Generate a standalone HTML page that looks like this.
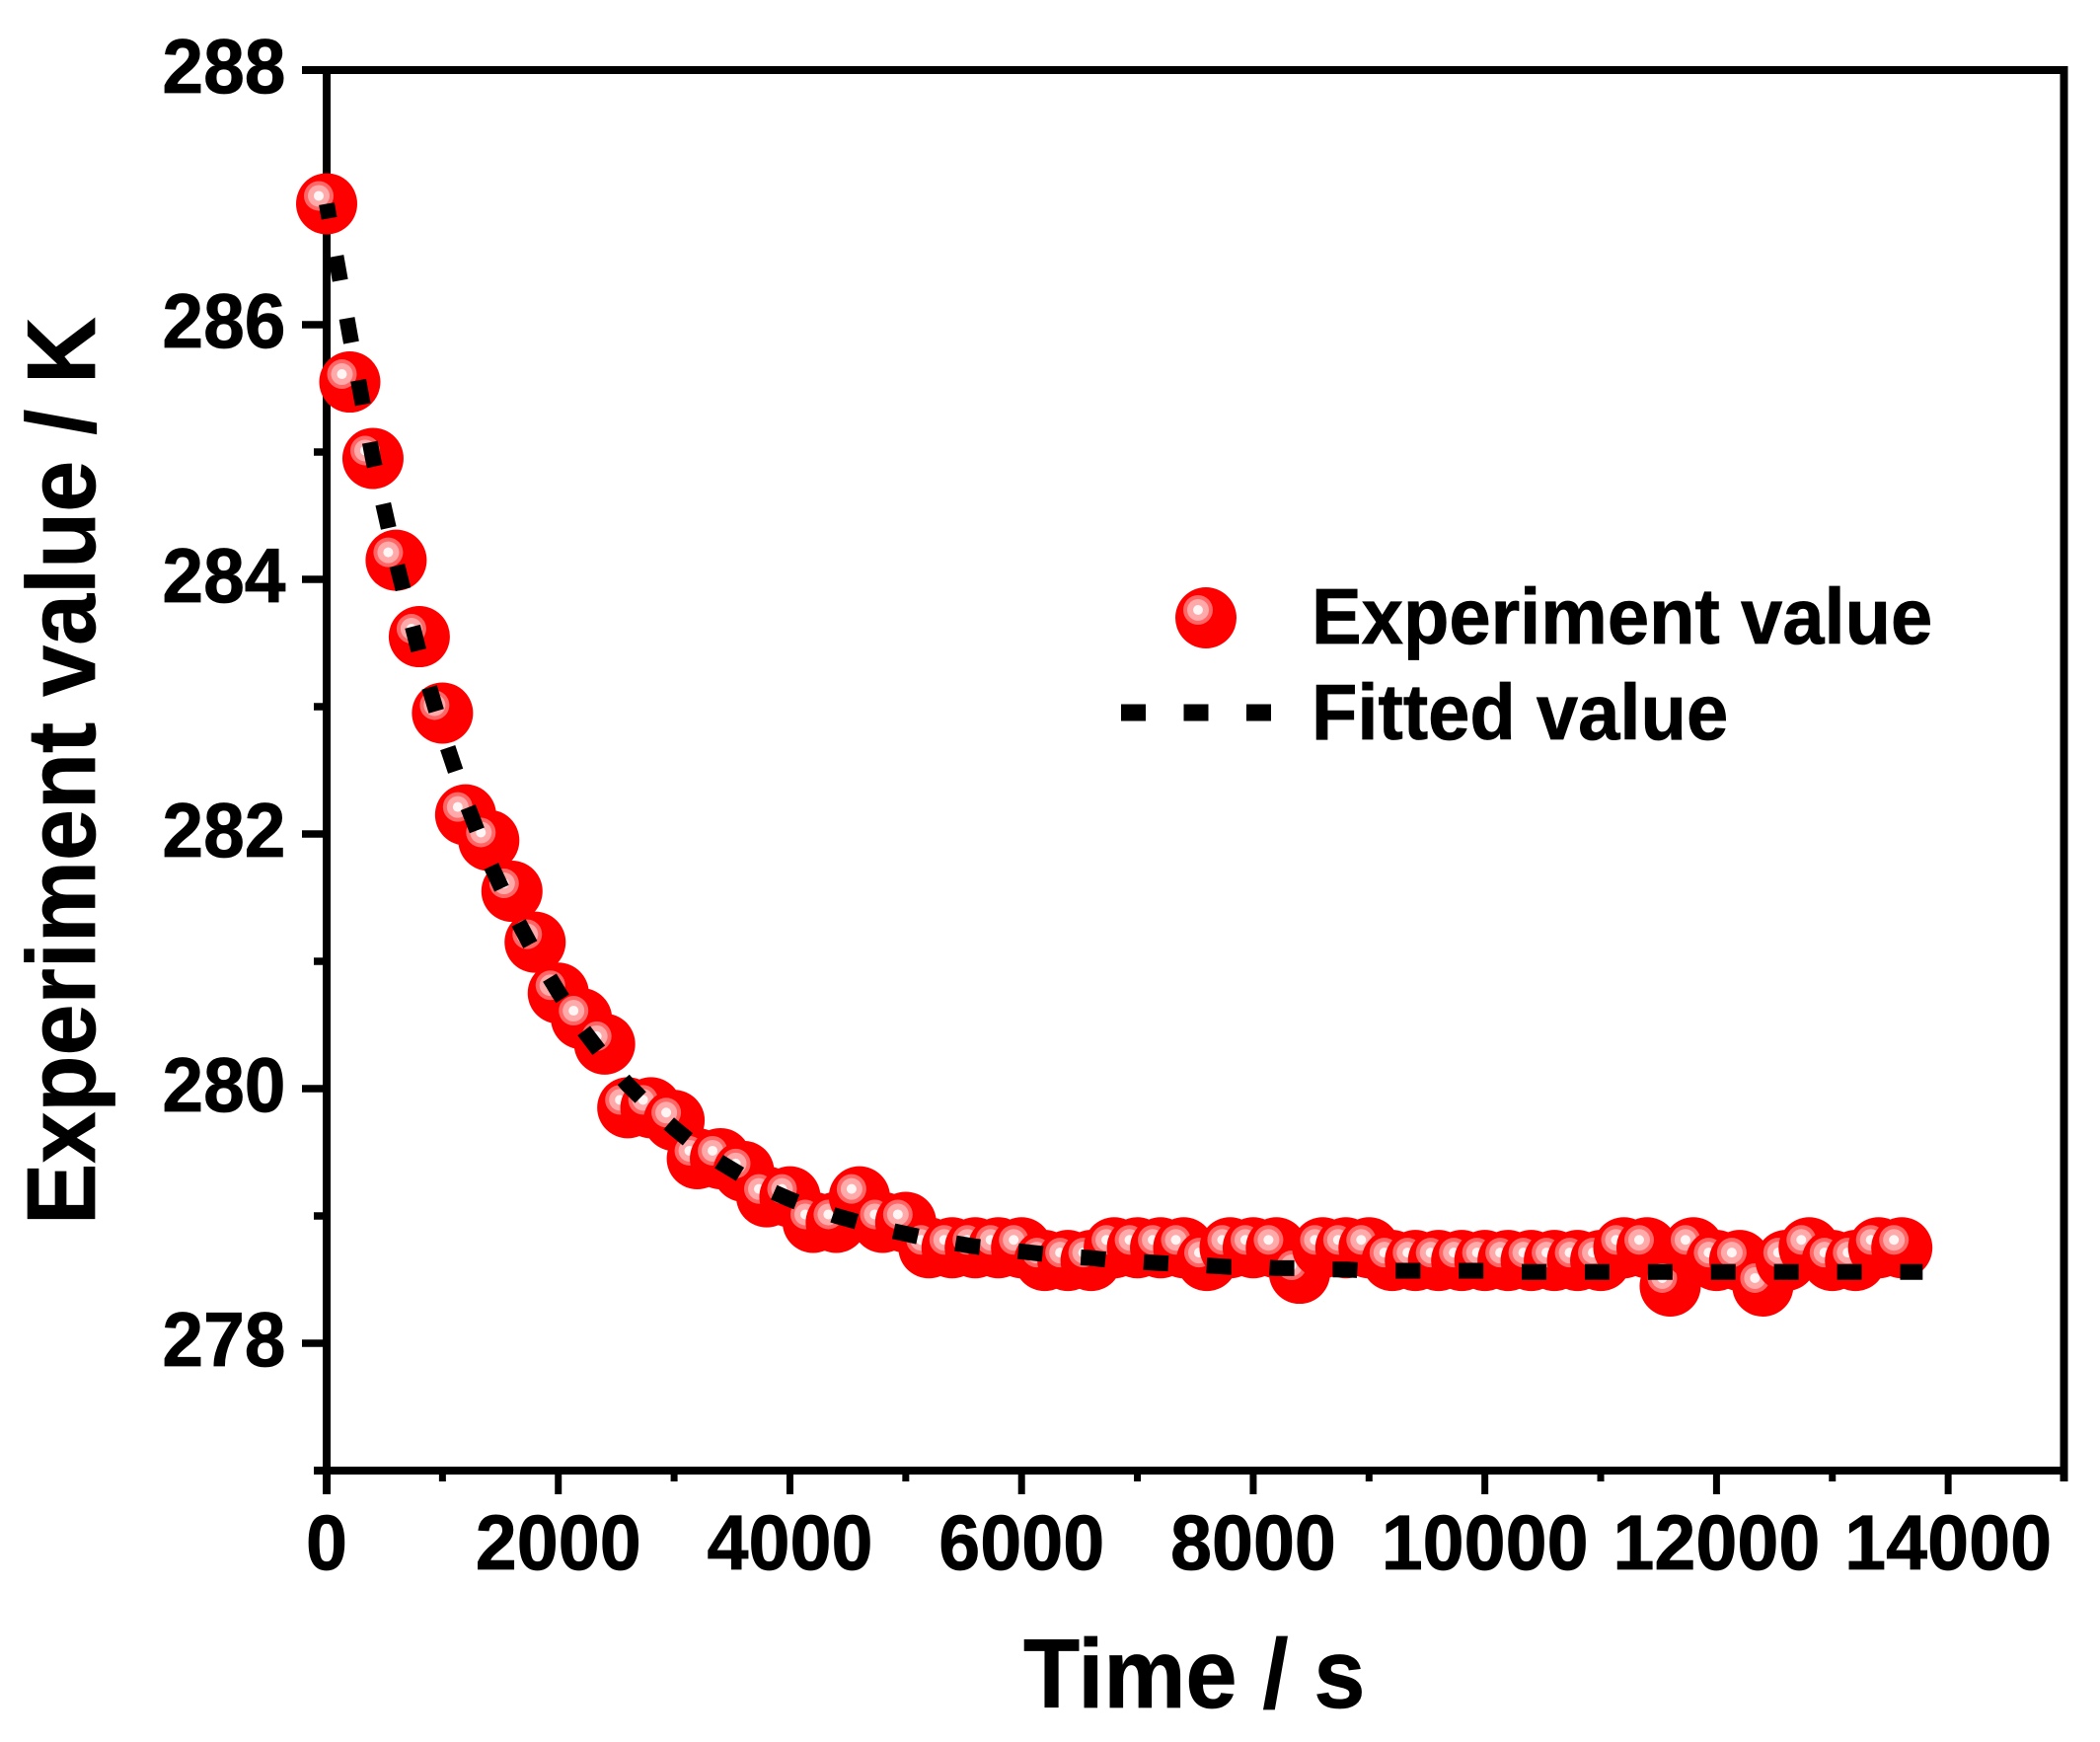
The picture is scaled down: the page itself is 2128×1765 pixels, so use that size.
<!DOCTYPE html>
<html lang="en">
<head>
<meta charset="utf-8">
<title>Experiment value vs Time</title>
<style>
html,body{margin:0;padding:0;background:#fff;}
svg{display:block;}
text{font-family:"Liberation Sans",sans-serif;font-weight:bold;fill:#000;stroke:#000;stroke-width:0.7px;}
</style>
</head>
<body>
<svg id="chart" xmlns="http://www.w3.org/2000/svg" width="2128" height="1765" viewBox="0 0 2128 1765">
  <rect x="0" y="0" width="2128" height="1765" fill="#fff"/>
  <g id="axes"></g>
  <g id="points"></g>
  <g id="fit"></g>
  <text transform="translate(96,1241) rotate(-90) scale(1,1.05)" font-size="93.5">Experiment value / K</text>
  <text transform="translate(1037,1730) scale(1,1.06)" font-size="93.5">Time / s</text>
  <g id="legend">
    <g id="legend-marker"></g>
    <text transform="translate(1329,652) scale(1,1.05)" font-size="76">Experiment value</text>
    <line x1="1136" y1="722" x2="1288" y2="722" stroke="#000" stroke-width="17" stroke-dasharray="25 38.5"/>
    <text transform="translate(1329,749) scale(1,1.05)" font-size="76">Fitted value</text>
  </g>
</svg>
<script>
const times = [0,200,400,600,800,1000,1200,1400,1600,1800,2000,2200,2400,2600,2800,3000,3200,3400,3600,3800,4000,4200,4400,4600,4800,5000,5200,5400,5600,5800,6000,6200,6400,6600,6800,7000,7200,7400,7600,7800,8000,8200,8400,8600,8800,9000,9200,9400,9600,9800,10000,10200,10400,10600,10800,11000,11200,11400,11600,11800,12000,12200,12400,12600,12800,13000,13200,13400,13600];
const experimentValues = [286.95,285.55,284.95,284.15,283.55,282.95,282.15,281.95,281.55,281.15,280.75,280.55,280.35,279.85,279.85,279.75,279.45,279.45,279.35,279.15,279.15,278.95,278.95,279.15,278.95,278.95,278.75,278.75,278.75,278.75,278.75,278.65,278.65,278.65,278.75,278.75,278.75,278.75,278.65,278.75,278.75,278.75,278.55,278.75,278.75,278.75,278.65,278.65,278.65,278.65,278.65,278.65,278.65,278.65,278.65,278.65,278.75,278.75,278.45,278.75,278.65,278.65,278.45,278.65,278.75,278.65,278.65,278.75,278.75];
const fittedValues = [286.95,285.92,284.95,284.14,283.42,282.80,282.26,281.79,281.40,281.06,280.76,280.48,280.24,280.03,279.85,279.69,279.54,279.42,279.31,279.21,279.13,279.06,279.00,278.95,278.90,278.86,278.82,278.79,278.76,278.74,278.72,278.70,278.68,278.67,278.65,278.64,278.63,278.62,278.61,278.60,278.60,278.59,278.59,278.58,278.58,278.57,278.57,278.57,278.57,278.57,278.57,278.56,278.56,278.56,278.56,278.56,278.56,278.56,278.56,278.56,278.56,278.56,278.56,278.56,278.56,278.56,278.56,278.56,278.56];
const fitEndTime = 13780;
const fitEndValue = 278.56;
const xMajorTicks = [0,2000,4000,6000,8000,10000,12000,14000];
const xMajorLabels = ["0","2000","4000","6000","8000","10000","12000","14000"];
const xMinorTicks = [1000,3000,5000,7000,9000,11000,13000,15000];
const yMajorTicks = [278,280,282,284,286,288];
const yMajorLabels = ["278","280","282","284","286","288"];
const yMinorTicks = [277,279,281,283,285,287];
const xDomain = [0,15000];
const yDomain = [277,288];

const NS = "http://www.w3.org/2000/svg";
const plotLeft = 331, plotRight = 2091.5, plotTop = 71, plotBottom = 1490;
function xScale(v){ return plotLeft + (v - xDomain[0]) / (xDomain[1] - xDomain[0]) * (plotRight - plotLeft); }
function yScale(v){ return plotBottom - (v - yDomain[0]) / (yDomain[1] - yDomain[0]) * (plotBottom - plotTop); }
function make(tag, attrs, parent){
  const el = document.createElementNS(NS, tag);
  for (const k in attrs) el.setAttribute(k, attrs[k]);
  parent.appendChild(el);
  return el;
}
function drawMarker(parent, cx, cy, tag){
  const g = make("g", {}, parent);
  
  
  make("circle", {cx:cx, cy:cy, r:31, fill:"#ff0000"}, g);
  make("circle", {cx:cx-8, cy:cy-8, r:15, fill:"#ff6666"}, g);
  make("circle", {cx:cx-8, cy:cy-8, r:11, fill:"#ffaaaa"}, g);
  make("circle", {cx:cx-8, cy:cy-8, r:5, fill:"#fff5f5"}, g);
}
const axes = document.getElementById("axes");
const spineW = 8;
const leftSpine = make("line", {x1:plotLeft, y1:plotTop-4, x2:plotLeft, y2:1514, stroke:"#000", "stroke-width":spineW}, axes);


const bottomSpine = make("line", {x1:318, y1:plotBottom, x2:plotRight+4, y2:plotBottom, stroke:"#000", "stroke-width":spineW}, axes);


const topSpine = make("line", {x1:306, y1:plotTop, x2:plotRight+4, y2:plotTop, stroke:"#000", "stroke-width":spineW}, axes);


const rightSpine = make("line", {x1:plotRight, y1:plotTop-4, x2:plotRight, y2:1501, stroke:"#000", "stroke-width":spineW}, axes);



xMajorTicks.forEach(function(t, i){
  const x = xScale(t);
  const tick = make("line", {x1:x, y1:plotBottom, x2:x, y2:1514, stroke:"#000", "stroke-width":7}, axes);
  
  
  const label = make("text", {transform:"translate(" + x + ",1590) scale(1,1.05)", "font-size":75.5, "text-anchor":"middle"}, axes);
  
  
  label.textContent = xMajorLabels[i];
});
xMinorTicks.forEach(function(t){
  const x = xScale(t);
  const tick = make("line", {x1:x, y1:plotBottom, x2:x, y2:1501, stroke:"#000", "stroke-width":7}, axes);
  
  
});
yMajorTicks.forEach(function(v, i){
  const y = yScale(v);
  const tick = make("line", {x1:306, y1:y, x2:plotLeft, y2:y, stroke:"#000", "stroke-width":7.5}, axes);
  
  
  const label = make("text", {transform:"translate(289.5," + (y+23) + ") scale(1,1.04)", "font-size":75, "text-anchor":"end"}, axes);
  
  
  label.textContent = yMajorLabels[i];
});
yMinorTicks.forEach(function(v){
  const y = yScale(v);
  const tick = make("line", {x1:318, y1:y, x2:plotLeft, y2:y, stroke:"#000", "stroke-width":7.5}, axes);
  
  
});

const pointsGroup = document.getElementById("points");
times.forEach(function(t, i){
  drawMarker(pointsGroup, xScale(t), yScale(experimentValues[i]), 'experiment-point');
});

const fitGroup = document.getElementById("fit");
const fitPts = times.map(function(t, i){ return xScale(t).toFixed(1) + "," + yScale(fittedValues[i]).toFixed(1); });
fitPts.push(xScale(fitEndTime).toFixed(1) + "," + yScale(fitEndValue).toFixed(1));
const fitLine = make("polyline", {points:fitPts.join(" "), fill:"none", stroke:"#000", "stroke-width":16, "stroke-dasharray":"25 38.9", "stroke-dashoffset":10, "stroke-linejoin":"miter"}, fitGroup);



drawMarker(document.getElementById("legend-marker"), 1222, 626, 'legend-marker-symbol');
</script>
</body>
</html>
